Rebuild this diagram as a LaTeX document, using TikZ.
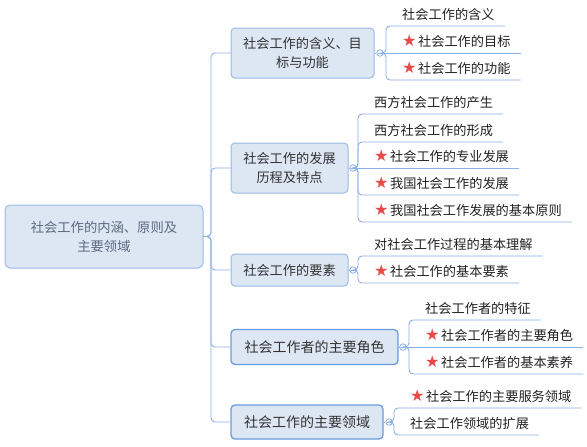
\documentclass[tikz,border=0pt]{standalone}
\usepackage{fontspec}
\setmainfont{Noto Sans CJK SC}
\newfontfamily\symf{DejaVu Sans}
\definecolor{lineblue}{HTML}{8AB0E6}
\definecolor{boxfill}{HTML}{DDE6F3}
\definecolor{boxborder}{HTML}{98BAE6}
\definecolor{strongborder}{HTML}{6A9BE0}
\definecolor{roottext}{HTML}{5C6B80}
\definecolor{branchtext}{HTML}{333333}
\definecolor{leaftext}{HTML}{222222}
\definecolor{starred}{HTML}{E84A4A}
\newcommand\st{{\symf\color{starred}\raisebox{0.3pt}{\scalebox{1.22}{★}}}\hspace{1.5pt}}
\tikzset{
  conn/.style={draw=lineblue, line width=0.9pt, rounded corners=4pt},
  rootbox/.style={draw=boxborder, line width=1pt, fill=boxfill, rounded corners=5pt,
    align=center, text=roottext, font=\fontsize{13.3pt}{19pt}\selectfont, inner sep=0pt},
  branchbox/.style={draw=boxborder, line width=1pt, fill=boxfill, rounded corners=4pt,
    align=center, text=branchtext, font=\fontsize{13.2pt}{19.5pt}\selectfont, inner sep=0pt},
  strongbox/.style={branchbox, draw=strongborder, line width=1.3pt,
    font=\fontsize{14pt}{19pt}\selectfont},
  toggle/.style={circle, draw=lineblue, line width=0.8pt, fill=white, minimum size=6.5pt, inner sep=0pt,
    path picture={\draw[lineblue, line width=0.6pt] ([xshift=-1.8pt]path picture bounding box.center) -- ([xshift=1.8pt]path picture bounding box.center);}},
  leaf/.style={anchor=south west, inner sep=0pt, text height=13pt, text depth=6.5pt,
    text=leaftext, font=\fontsize{13.2pt}{16pt}\selectfont,
    execute at begin node={\hspace*{16pt}}, execute at end node={\hspace*{10pt}}},
}
\begin{document}
\begin{tikzpicture}[x=1pt, y=-1pt]
\useasboundingbox (0,0) rectangle (587,447);
% root
\node[rootbox, minimum width=198pt, minimum height=63pt] (root) at (104,236.5) {社会工作的内涵、原则及\\主要领域};
\coordinate (tr) at (211,236.5);
% branches
\node[branchbox, minimum width=143pt, minimum height=50pt] (b1) at (302.5,53) {社会工作的含义、目\\标与功能};
\node[branchbox, minimum width=117pt, minimum height=50pt] (b2) at (289.5,168) {社会工作的发展\\历程及特点};
\node[branchbox, minimum width=117pt, minimum height=32pt] (b3) at (289.5,270) {社会工作的要素};
\node[strongbox, minimum width=167pt, minimum height=35pt] (b4) at (314.5,347) {社会工作者的主要角色};
\node[strongbox, minimum width=152pt, minimum height=34pt] (b5) at (307,422) {社会工作的主要领域};
% trunk
\draw[conn] (root.east) -- (tr) |- (b1.west);
\draw[conn] (root.east) -- (tr) |- (b2.west);
\draw[conn] (root.east) -- (tr) |- (b3.west);
\draw[conn] (root.east) -- (tr) |- (b4.west);
\draw[conn] (root.east) -- (tr) |- (b5.west);
% toggles
\node[toggle] (t1) at (380,53) {};
\node[toggle] (t2) at (353,168) {};
\node[toggle] (t3) at (353,270) {};
\node[toggle] (t4) at (403,347) {};
\node[toggle] (t5) at (389,422) {};
\draw[conn] (b1.east) -- (t1.west);
\draw[conn] (b2.east) -- (t2.west);
\draw[conn] (b3.east) -- (t3.west);
\draw[conn] (b4.east) -- (t4.west);
\draw[conn] (b5.east) -- (t5.west);
% leaves branch 1
\node[leaf] (l11) at (386,26) {社会工作的含义};
\node[leaf] (l12) at (386,53) {\st 社会工作的目标};
\node[leaf] (l13) at (386,80) {\st 社会工作的功能};
\draw[conn] (t1.east) -- (t1.east -| l11.south west) -- (l11.south west) -- (l11.south east);
\draw[conn] (t1.east) -- (l12.south east);
\draw[conn] (t1.east) -- (t1.east -| l13.south west) -- (l13.south west) -- (l13.south east);
% leaves branch 2
\node[leaf] (l21) at (358,114) {西方社会工作的产生};
\node[leaf] (l22) at (358,142) {西方社会工作的形成};
\node[leaf] (l23) at (358,168) {\st 社会工作的专业发展};
\node[leaf] (l24) at (358,195) {\st 我国社会工作的发展};
\node[leaf] (l25) at (358,222) {\st 我国社会工作发展的基本原则};
\draw[conn] (t2.east) -- (t2.east -| l21.south west) -- (l21.south west) -- (l21.south east);
\draw[conn] (t2.east) -- (t2.east -| l22.south west) -- (l22.south west) -- (l22.south east);
\draw[conn] (t2.east) -- (l23.south east);
\draw[conn] (t2.east) -- (t2.east -| l24.south west) -- (l24.south west) -- (l24.south east);
\draw[conn] (t2.east) -- (t2.east -| l25.south west) -- (l25.south west) -- (l25.south east);
% leaves branch 3
\node[leaf] (l31) at (358,256) {对社会工作过程的基本理解};
\node[leaf] (l32) at (358,283) {\st 社会工作的基本要素};
\draw[conn] (t3.east) -- (t3.east -| l31.south west) -- (l31.south west) -- (l31.south east);
\draw[conn] (t3.east) -- (t3.east -| l32.south west) -- (l32.south west) -- (l32.south east);
% leaves branch 4
\node[leaf] (l41) at (409,320) {社会工作者的特征};
\node[leaf] (l42) at (409,347) {\st 社会工作者的主要角色};
\node[leaf] (l43) at (409,374) {\st 社会工作者的基本素养};
\draw[conn] (t4.east) -- (t4.east -| l41.south west) -- (l41.south west) -- (l41.south east);
\draw[conn] (t4.east) -- (l42.south east);
\draw[conn] (t4.east) -- (t4.east -| l43.south west) -- (l43.south west) -- (l43.south east);
% leaves branch 5
\node[leaf] (l51) at (394,408) {\st 社会工作的主要服务领域};
\node[leaf] (l52) at (394,435) {社会工作领域的扩展};
\draw[conn] (t5.east) -- (t5.east -| l51.south west) -- (l51.south west) -- (l51.south east);
\draw[conn] (t5.east) -- (t5.east -| l52.south west) -- (l52.south west) -- (l52.south east);
\end{tikzpicture}
\end{document}
